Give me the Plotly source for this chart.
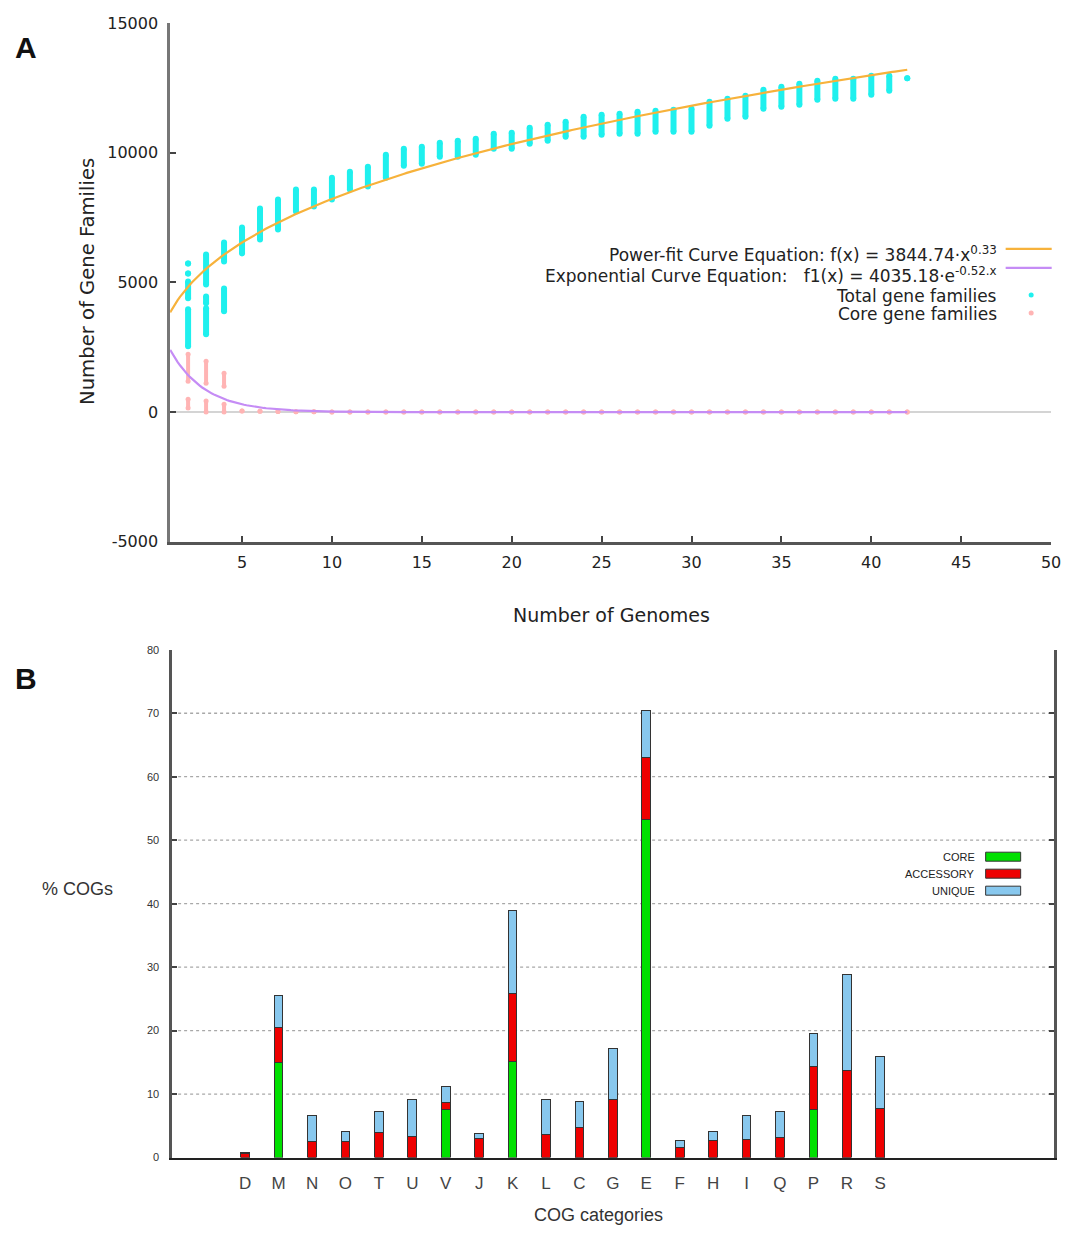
import numpy as np
import plotly.graph_objects as go

# ---------------- Panel A: pan-genome / core-genome accumulation ----------------
# Each entry is one vertical run of observed values at a given number of genomes.
TOTAL_X = [2, 2, 2, 2, 3, 3, 3, 4, 4,
           5, 6, 7, 8, 9, 10, 11, 12, 13, 14, 15, 16, 17, 18, 19, 20, 21, 22, 23,
           24, 25, 26, 27, 28, 29, 30, 31, 32, 33, 34, 35, 36, 37, 38, 39, 40, 41, 42]
TOTAL_LO = [5730, 5346, 4384, 2538, 4923, 4192, 3000, 5807, 3884,
            6115, 6654, 7038, 7731, 7923, 8192, 8577, 8692, 9038, 9500, 9577, 9846,
            9846, 9923, 10154, 10154, 10346, 10462, 10615, 10615, 10692, 10730, 10730,
            10808, 10808, 10808, 11038, 11308, 11385, 11692, 11769, 11846, 12038,
            12077, 12077, 12231, 12385, 12870]
TOTAL_HI = [5730, 5346, 5038, 3961, 6077, 4461, 4000, 6538, 4769,
            7115, 7846, 8192, 8577, 8577, 9038, 9269, 9461, 9923, 10154, 10231, 10385,
            10462, 10538, 10731, 10769, 10962, 11077, 11192, 11385, 11462, 11500, 11577,
            11615, 11654, 11692, 11962, 12077, 12192, 12423, 12538, 12654, 12769,
            12846, 12846, 12962, 12962, 12870]

CORE_X = [2, 2, 3, 3, 4, 4,
          5, 6, 7, 8, 9, 10, 11, 12, 13, 14, 15, 16, 17, 18, 19, 20, 21, 22, 23,
          24, 25, 26, 27, 28, 29, 30, 31, 32, 33, 34, 35, 36, 37, 38, 39, 40, 41, 42]
CORE_LO = [1192, 154, 1115, 0, 1000, 0,
           40, 30, 20, 10, 10, 0, 0, 0, 0, 0, 0, 0, 0, 0, 0, 0, 0, 0, 0,
           0, 0, 0, 0, 0, 0, 0, 0, 0, 0, 0, 0, 0, 0, 0, 0, 0, 0, 0]
CORE_HI = [2231, 500, 1962, 423, 1500, 300,
           40, 30, 20, 10, 10, 0, 0, 0, 0, 0, 0, 0, 0, 0, 0, 0, 0, 0, 0,
           0, 0, 0, 0, 0, 0, 0, 0, 0, 0, 0, 0, 0, 0, 0, 0, 0, 0, 0]

# Fitted curve parameters (as printed in the key)
POWER_A, POWER_B = 3844.74, 0.33
EXP_A, EXP_B = 4035.18, 0.52
FIT_X_MIN, FIT_X_MAX = 1, 42

A_XTICKS = [5, 10, 15, 20, 25, 30, 35, 40, 45, 50]
A_YTICKS = [-5000, 0, 5000, 10000, 15000]
A_YTICKTEXT = ["-5000", "0", "5000", "10000", "15000"]

# ---------------- Panel B: COG category distribution ----------------
COG_CATS = ["D", "M", "N", "O", "T", "U", "V", "J", "K", "L",
            "C", "G", "E", "F", "H", "I", "Q", "P", "R", "S"]
CORE = [0, 15.0, 0, 0, 0, 0, 7.6, 0, 15.2, 0,
        0, 0, 53.3, 0, 0, 0, 0, 7.6, 0, 0]
ACCESSORY = [0.6, 5.5, 2.5, 2.6, 3.9, 3.3, 1.0, 3.0, 10.7, 3.6,
             4.8, 9.2, 9.8, 1.6, 2.7, 2.8, 3.1, 6.7, 13.7, 7.8]
UNIQUE = [0.2, 5.1, 4.2, 1.5, 3.3, 5.8, 2.6, 0.8, 13.1, 5.5,
          4.1, 8.0, 7.4, 1.1, 1.4, 3.8, 4.2, 5.3, 15.1, 8.1]
B_YTICKS = [0, 10, 20, 30, 40, 50, 60, 70, 80]
B_GRID = [10, 20, 30, 40, 50, 60, 70]

CYAN = "#1ff0ee"
PINK = "#ffb4b4"
ORANGE = "#f7b23b"
PURPLE = "#c58cf5"
GREEN = "#00e000"
RED = "#ee0000"
BLUE = "#88c8ee"
FONT_A = "DejaVu Sans, Verdana, sans-serif"
FONT_B = "Liberation Sans, Arial, sans-serif"

W, H = 1069, 1237
SX, SY, OY = 0.99, 0.985, 8.0  # page-pixel layout grid


def px_x(px):
    """Layout x pixel for a page position, kept inside the figure."""
    return min(px / SX, W - 1)


def fx_(px):
    return px_x(px) / W


def fy_(py):
    return 1 - ((py - OY) / SY) / H


def runs(xs, lo, hi):
    """Turn (x, lo, hi) runs into a None-separated polyline."""
    px, py = [], []
    for x, a, b in zip(xs, lo, hi):
        px += [x, x, None]
        py += [a, b, None]
    return px, py


fig = go.Figure()

# Core gene families
cx, cy = runs(CORE_X, CORE_LO, CORE_HI)
fig.add_trace(go.Scatter(x=cx, y=cy, mode="lines", line=dict(color=PINK, width=4),
                         xaxis="x", yaxis="y", showlegend=False, hoverinfo="skip"))
fig.add_trace(go.Scatter(x=CORE_X + CORE_X, y=CORE_LO + CORE_HI, mode="markers",
                         marker=dict(color=PINK, size=5), xaxis="x", yaxis="y",
                         showlegend=False))

# Total gene families
tx, ty = runs(TOTAL_X, TOTAL_LO, TOTAL_HI)
fig.add_trace(go.Scatter(x=tx, y=ty, mode="lines", line=dict(color=CYAN, width=6),
                         xaxis="x", yaxis="y", showlegend=False, hoverinfo="skip"))
fig.add_trace(go.Scatter(x=TOTAL_X + TOTAL_X, y=TOTAL_LO + TOTAL_HI, mode="markers",
                         marker=dict(color=CYAN, size=6), xaxis="x", yaxis="y",
                         showlegend=False))

# Fitted curves
fxs = np.linspace(FIT_X_MIN, FIT_X_MAX, 300)
fig.add_trace(go.Scatter(x=fxs, y=POWER_A * fxs ** POWER_B, mode="lines",
                         line=dict(color=ORANGE, width=2.2), xaxis="x", yaxis="y",
                         showlegend=False))
fig.add_trace(go.Scatter(x=fxs, y=EXP_A * np.exp(-EXP_B * fxs), mode="lines",
                         line=dict(color=PURPLE, width=2.2), xaxis="x", yaxis="y",
                         showlegend=False))

# ---------------- Panel B stacked bars ----------------
idx = list(range(len(COG_CATS)))
for name, vals, col in [("CORE", CORE, GREEN), ("ACCESSORY", ACCESSORY, RED),
                        ("UNIQUE", UNIQUE, BLUE)]:
    fig.add_trace(go.Bar(x=idx, y=vals, name=name, width=0.26,
                         marker=dict(color=col, line=dict(color="#333333", width=1)),
                         xaxis="x2", yaxis="y2", showlegend=False))

shapes = []
# dotted horizontal grid in panel B
for g in B_GRID:
    shapes.append(dict(type="line", xref="x2 domain", yref="y2", x0=0, x1=1, y0=g, y1=g,
                       line=dict(color="#a8a8a8", width=1.3, dash="dot"), layer="below"))

annotations = []


def note(x_px, y_px, text, size, family, color="#222222", xanchor="center", angle=0):
    return dict(x=fx_(x_px), y=fy_(y_px), xref="paper", yref="paper", text=text,
                showarrow=False, xanchor=xanchor, yanchor="middle", textangle=angle,
                font=dict(family=family, size=size, color=color))


# Panel A key
key_rows = [
    ("Power-fit Curve Equation: f(x) = 3844.74·x<sup>0.33</sup>", 253, "line", ORANGE, 248),
    ("Exponential Curve Equation:\u00a0\u00a0\u00a0f1(x) = 4035.18·e<sup>-0.52.x</sup>", 274, "line", PURPLE, 267),
    ("Total gene families", 295, "dot", CYAN, 294),
    ("Core gene families", 313, "dot", PINK, 312),
]
for text, ty_px, kind, col, sy_px in key_rows:
    annotations.append(note(998, ty_px, text, 17, FONT_A, xanchor="right"))
    if kind == "line":
        shapes.append(dict(type="line", xref="paper", yref="paper",
                           x0=fx_(1005), x1=fx_(1051), y0=fy_(sy_px), y1=fy_(sy_px),
                           line=dict(color=col, width=2.2)))
    else:
        shapes.append(dict(type="circle", xref="paper", yref="paper",
                           x0=fx_(1028), x1=fx_(1033), y0=fy_(sy_px + 2.5),
                           y1=fy_(sy_px - 2.5), line=dict(width=0), fillcolor=col))

# Panel B key
for i, (name, col) in enumerate([("CORE", GREEN), ("ACCESSORY", RED), ("UNIQUE", BLUE)]):
    yc = 856 + 17 * i
    annotations.append(note(976, yc, name, 11, FONT_B, xanchor="right"))
    shapes.append(dict(type="rect", xref="paper", yref="paper",
                       x0=fx_(985), x1=fx_(1020), y0=fy_(yc + 4.5), y1=fy_(yc - 4.5),
                       fillcolor=col, line=dict(color="#333333", width=1)))

# Panel letters and axis titles
annotations += [
    note(26, 47, "<b>A</b>", 30, FONT_B, "#111111"),
    note(26, 678, "<b>B</b>", 30, FONT_B, "#111111"),
    note(88, 281, "Number of Gene Families", 19.6, FONT_A, angle=-90),
    note(611, 614, "Number of Genomes", 19, FONT_A),
    note(77, 888, "% COGs", 18, FONT_B, "#333333"),
    dict(x=fx_(598), y=0, xref="paper", yref="paper", text="COG categories",
         showarrow=False, xanchor="center", yanchor="bottom",
         font=dict(family=FONT_B, size=18, color="#333333")),
]

fig.update_layout(
    width=W, height=H,
    margin=dict(l=0, r=0, t=0, b=0),
    paper_bgcolor="white", plot_bgcolor="white",
    barmode="stack",
    showlegend=False,
    shapes=shapes,
    annotations=annotations,
    xaxis=dict(domain=[fx_(170), min(1061 / W, 1)], range=[1, 50], anchor="y",
               tickvals=A_XTICKS, ticks="inside", ticklen=6, tickwidth=1.5, tickcolor="#444",
               showgrid=False, zeroline=False, showline=True, linecolor="#555555", linewidth=2.5,
               tickfont=dict(family=FONT_A, size=16, color="#222222"), ticklabelstandoff=4,
               ticklabeloverflow="allow"),
    yaxis=dict(domain=[fy_(541), fy_(22)], range=[-5000, 15000], anchor="x",
               tickvals=A_YTICKS, ticktext=A_YTICKTEXT, ticks="inside", ticklen=6,
               tickwidth=1.5, tickcolor="#444",
               showgrid=False, zeroline=True, zerolinecolor="#d4d4d4", zerolinewidth=1.5,
               showline=True, linecolor="#777777", linewidth=2.5,
               tickfont=dict(family=FONT_A, size=16, color="#222222"), ticklabelstandoff=6),
    xaxis2=dict(domain=[fx_(172), fx_(1053)], range=[-2.186, 24.19], anchor="y2",
                tickvals=idx, ticktext=COG_CATS, ticks="", showgrid=False, zeroline=False,
                showline=True, linecolor="#222222", linewidth=1.8,
                tickfont=dict(family=FONT_B, size=17, color="#444444"), ticklabelstandoff=9),
    yaxis2=dict(domain=[fy_(1157), fy_(649)], range=[0, 80], anchor="x2",
                tickvals=B_YTICKS, ticks="inside", ticklen=5, tickwidth=2, tickcolor="#444",
                showgrid=False, zeroline=False, showline=True, mirror="ticks",
                linecolor="#555555", linewidth=2.5,
                tickfont=dict(family=FONT_B, size=11, color="#333333"), ticklabelstandoff=8),
)

fig.write_html("out.html")
